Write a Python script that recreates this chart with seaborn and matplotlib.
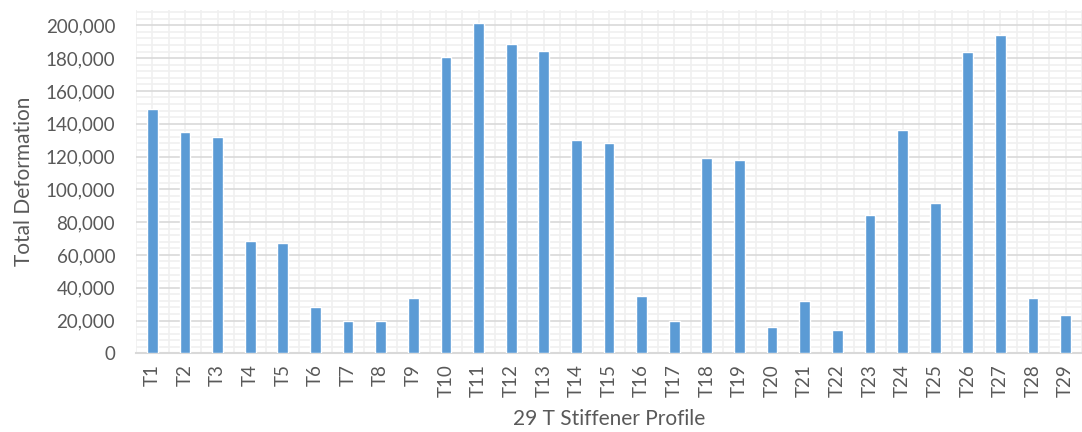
import numpy as np
import pandas as pd
import matplotlib
matplotlib.use("Agg")
import matplotlib.pyplot as plt
from matplotlib.ticker import MultipleLocator, FuncFormatter
import seaborn as sns

profiles = [f"T{i}" for i in range(1, 30)]
deformation = [149000, 135000, 132000, 68300, 67100, 28000, 19500, 19500, 33500,
               180900, 201200, 188400, 184300, 130300, 128200, 34800, 19500, 119100,
               117700, 16200, 32100, 14200, 84100, 136200, 91500, 183700, 194300,
               33500, 23500]

sns.set_style("white")
plt.rcParams["font.family"] = ["Lato", "DejaVu Sans"]

df = pd.DataFrame({"profile": profiles, "deformation": deformation})

fig = plt.figure(figsize=(10.82, 4.32), dpi=100)
ax = fig.add_axes([136 / 1082, 78.7 / 432, 1 - 136 / 1082, (353.3 - 10) / 432])

text_color = "#595959"
sns.barplot(data=df, x="profile", y="deformation", color="#5B9BD5",
            width=0.33, saturation=1, ax=ax, zorder=3)

ax.set_ylim(0, 209350)
ax.set_xlim(-0.5, 28.34)

ax.yaxis.set_major_locator(MultipleLocator(20000))
ax.yaxis.set_minor_locator(MultipleLocator(4000))
ax.yaxis.set_major_formatter(FuncFormatter(lambda v, p: f"{int(v):,}"))
ax.set_xticks(np.arange(len(profiles)))
ax.set_xticks(np.arange(-0.5, len(profiles), 1.0), minor=True)

ax.grid(False)
ax.grid(which="minor", axis="y", color="#f0f0f0", linewidth=1.2, zorder=0)
ax.grid(which="minor", axis="x", color="#f0f0f0", linewidth=1.2, zorder=0)
ax.grid(which="major", axis="x", color="#f0f0f0", linewidth=1.2, zorder=0)
ax.grid(which="major", axis="y", color="#d9d9d9", linewidth=1.2, zorder=1)
ax.set_axisbelow(True)

for side in ["top", "right", "left"]:
    ax.spines[side].set_visible(False)
ax.spines["bottom"].set_color("#d9d9d9")
ax.spines["bottom"].set_linewidth(1.5)

ax.tick_params(axis="both", which="both", length=0, colors=text_color, labelsize=13.5)
ax.tick_params(axis="y", pad=15)
ax.tick_params(axis="x", pad=8)
plt.setp(ax.get_xticklabels(), rotation=90)

ax.set_xlabel("29 T Stiffener Profile", color=text_color, fontsize=15, labelpad=8)
ax.set_ylabel("Total Deformation", color=text_color, fontsize=15, labelpad=8)

fig.savefig("out.png", dpi=100)
